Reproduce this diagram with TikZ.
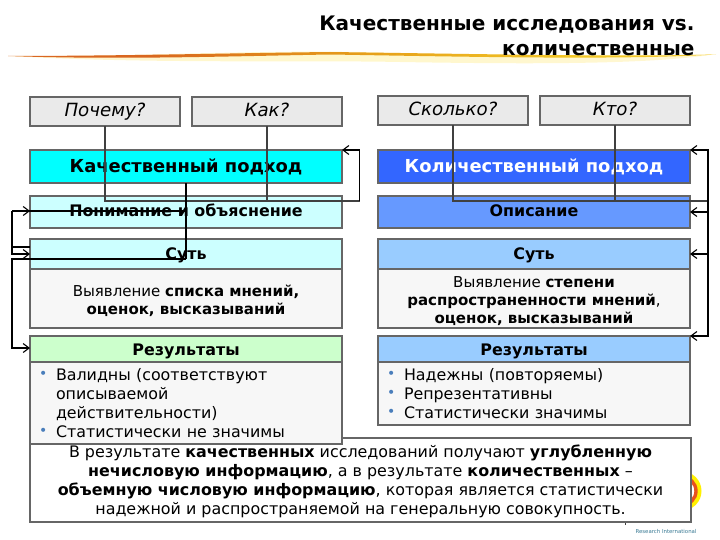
\documentclass[tikz,border=0pt]{standalone}
\usepackage{fontspec}
\setmainfont{DejaVu Sans}
\usetikzlibrary{arrows.meta,calc}
\definecolor{edgeg}{HTML}{666666}
\definecolor{lineg}{HTML}{404040}
\definecolor{askg}{HTML}{EAEAEA}
\definecolor{bodyg}{HTML}{F7F7F7}
\definecolor{bulc}{HTML}{4A7EBB}
\definecolor{logot}{HTML}{3A7A94}
\definecolor{cyanhead}{HTML}{00FFFF}
\definecolor{cyanpale}{HTML}{CCFFFF}
\definecolor{greenpale}{HTML}{CCFFCC}
\definecolor{bluehead}{HTML}{3366FF}
\definecolor{bluemid}{HTML}{6699FF}
\definecolor{bluepale}{HTML}{99CCFF}
\definecolor{ringy}{HTML}{FFF000}
\definecolor{ringo}{HTML}{E8501E}
\pgfdeclarehorizontalshading{swooshcore}{100bp}{
 rgb(0bp)=(1,1,1); rgb(4bp)=(.96,.85,.75); rgb(14bp)=(.85,.40,.15);
 rgb(35bp)=(.85,.40,.12); rgb(50bp)=(.90,.62,.10); rgb(65bp)=(.95,.78,.15);
 rgb(85bp)=(.96,.80,.20); rgb(93bp)=(.98,.90,.60); rgb(100bp)=(1,1,1)}
\pgfdeclarehorizontalshading{swooshhalo}{100bp}{
 rgb(0bp)=(1,1,1); rgb(10bp)=(1,.96,.82); rgb(50bp)=(1,.97,.80);
 rgb(90bp)=(1,.97,.84); rgb(100bp)=(1,1,1)}
\tikzset{
 x=1pt,y=-1pt,
 box/.style={draw=edgeg,line width=1.2pt,inner sep=0pt,outer sep=0pt,align=center,text=black},
 askbox/.style={box,fill=askg,minimum width=150pt,minimum height=29pt,text height=15pt,text depth=4pt,font=\fontsize{18.2}{20}\selectfont\itshape},
 headbox/.style={box,minimum width=312pt,text height=16pt,text depth=3pt,font=\fontsize{17.9}{20}\selectfont\bfseries},
 subbox/.style={box,minimum width=312pt,text height=13pt,text depth=3pt,font=\fontsize{15.9}{18}\selectfont\bfseries},
 resbox/.style={subbox,text height=15pt},
 bodybox/.style={box,fill=bodyg,minimum width=312pt,font=\fontsize{15}{18}\selectfont},
 listbox/.style={bodybox,align=left,text width=294pt,font=\fontsize{15.85}{19}\selectfont},
 noteline/.style={draw=black,line width=1.1pt},
 askline/.style={draw=lineg,line width=1.2pt},
 arrowline/.style={noteline,-{Straight Barb[length=6pt,width=9pt,line width=1.1pt]}},
}
\newcommand{\bl}{\makebox[17pt][l]{\textcolor{bulc}{\raisebox{2pt}{\fontsize{14}{10}\selectfont •}}}}
\newcommand{\nbl}{\hspace*{17pt}}
\newcommand{\lowerby}[1]{\rule{0pt}{#1}}
\begin{document}
\begin{tikzpicture}
\useasboundingbox (0,0) rectangle (720,540);
% decoration
\shade[shading=swooshhalo] (8,56) .. controls (150,64) and (300,60) .. (400,62) .. controls (520,64) and (650,65) .. (716,54) .. controls (650,56) and (500,56) .. (360,52) .. controls (250,50) and (120,57) .. (8,56) -- cycle;
\shade[shading=swooshcore] (8,56) .. controls (120,60) and (240,56) .. (330,54.5) .. controls (480,57) and (620,60) .. (716,54.5) .. controls (620,57) and (480,54) .. (330,52) .. controls (240,53) and (120,56) .. (8,56) -- cycle;
\node[anchor=east,align=right,font=\fontsize{20}{25}\selectfont\bfseries] (title) at (698,36) {Качественные исследования vs.\\количественные};
% logo remnant
\draw[ringy,line width=5pt] (682,491) circle (17pt);
\draw[ringo,line width=3.4pt] (682,491) circle (14pt);
\draw[lineg,line width=0.8pt] (625,520) -- (625,524.5);
\node[font=\fontsize{5.4}{6}\selectfont,text=logot,inner sep=0pt] (brand) at (666,531) {Research International};
% bottom note
\node[box,fill=white,minimum width=661pt,minimum height=84pt,font=\fontsize{15.9}{19}\selectfont] (note) at (360.5,480) {\lowerby{15pt}В результате \textbf{качественных} исследований получают \textbf{углубленную}\\\textbf{нечисловую информацию}, а в результате \textbf{количественных} –\\\textbf{объемную числовую информацию}, которая является статистически\\надежной и распространяемой на генеральную совокупность.};
% asks
\node[askbox] (why) at (105,111.5) {Почему?};
\node[askbox] (how) at (267,111.5) {Как?};
\node[askbox] (much) at (453,110.5) {Сколько?};
\node[askbox] (who) at (615,110.5) {Кто?};
% left column
\node[headbox,fill=cyanhead,minimum height=33pt] (qual) at (186,166.5) {Качественный подход};
\node[subbox,fill=cyanpale,minimum height=32pt] (understand) at (186,212) {Понимание и объяснение};
\node[subbox,fill=cyanpale,minimum height=30pt] (essL) at (186,254) {Суть};
\node[bodybox,minimum height=59pt] (essLb) at (186,298.5) {\lowerby{17pt}Выявление \textbf{списка мнений,}\\\textbf{оценок, высказываний}};
\node[listbox,minimum height=82pt] (resLb) at (186,403) {\bl Валидны (соответствуют\\\nbl описываемой\\\nbl действительности)\\\bl Статистически не значимы};
\node[resbox,fill=greenpale,minimum height=26pt] (resL) at (186,349) {Результаты};
% right column
\node[headbox,fill=bluehead,text=white,minimum height=33pt] (quant) at (534,166.5) {Количественный подход};
\node[subbox,fill=bluemid,minimum height=32pt] (describe) at (534,212) {Описание};
\node[subbox,fill=bluepale,minimum height=30pt] (essR) at (534,254) {Суть};
\node[bodybox,minimum height=59pt] (essRb) at (534,298.5) {\lowerby{16pt}Выявление \textbf{степени}\\\textbf{распространенности мнений},\\\textbf{оценок, высказываний}};
\node[listbox,minimum height=63pt] (resRb) at (534,393.5) {\bl Надежны (повторяемы)\\\bl Репрезентативны\\\bl Статистически значимы};
\node[resbox,fill=bluepale,minimum height=26pt] (resR) at (534,349) {Результаты};
% connector routing points
\coordinate (jL) at (359.5,201);
\coordinate (jR) at (708,201);
\coordinate (railL) at (12,211);
\coordinate (busL) at (186,259);
% left asks to qualitative head
\draw[askline] (why.south) -- (why.south |- jL) -- (jL);
\draw[askline] (how.south) -- (how.south |- jL);
\draw[arrowline] (jL) -- (jL |- qual.north east) -- (qual.north east);
% right asks to quantitative rail
\draw[askline] (much.south) -- (much.south |- jR) -- (jR);
\draw[askline] (who.south) -- (who.south |- jR);
\draw[arrowline] (jR) -- (jR |- quant.north east) -- (quant.north east);
\draw[arrowline] (jR |- describe.west) -- (describe.east);
\draw[arrowline] (jR |- essR) -- (essR.east);
\draw[arrowline] (jR) -- (jR |- resR.north east) -- (resR.north east);
% qualitative head to left rail
\draw[noteline] (qual.south) -- (busL);
\draw[arrowline] (qual.south |- railL) -- (railL) -- (railL -| understand.west);
\draw[arrowline] (railL) -- (12,254) -- (essL.west);
\draw[noteline] (12,247) -- (essL.north west |- 0,247);
\draw[arrowline] (busL) -- (12,259) -- (12,348) -- (resL.north west |- 0,348);
\end{tikzpicture}
\end{document}
